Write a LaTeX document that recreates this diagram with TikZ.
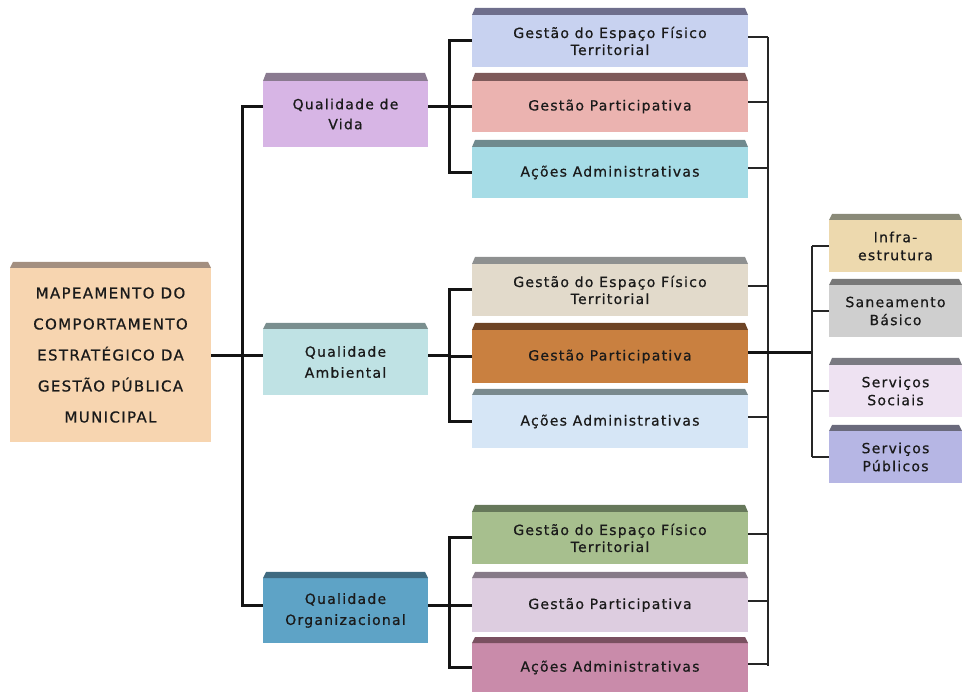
\documentclass[tikz,border=0pt]{standalone}
\usepackage{fontspec}
\setmainfont{DejaVu Sans}[LetterSpace=9,FakeBold=0.7]
\definecolor{txt}{HTML}{1A1A1A}
\definecolor{rootfill}{HTML}{F7D5B0}\definecolor{rootbev}{HTML}{A38F80}
\definecolor{qvfill}{HTML}{D7B5E5}\definecolor{qvbev}{HTML}{8A7A90}
\definecolor{qafill}{HTML}{BFE2E4}\definecolor{qabev}{HTML}{7A8F8F}
\definecolor{qofill}{HTML}{5EA3C6}\definecolor{qobev}{HTML}{3F6A80}
\definecolor{gaFill}{HTML}{C8D2F0}\definecolor{gaBev}{HTML}{6E6E8C}
\definecolor{paFill}{HTML}{EBB3B0}\definecolor{paBev}{HTML}{7E5A5A}
\definecolor{aaFill}{HTML}{A6DCE6}\definecolor{aaBev}{HTML}{708A8E}
\definecolor{gbFill}{HTML}{E2DACB}\definecolor{gbBev}{HTML}{8E9090}
\definecolor{pbFill}{HTML}{C98040}\definecolor{pbBev}{HTML}{6E4425}
\definecolor{abFill}{HTML}{D6E6F6}\definecolor{abBev}{HTML}{7A8A8E}
\definecolor{gcFill}{HTML}{A7BF8E}\definecolor{gcBev}{HTML}{66785A}
\definecolor{pcFill}{HTML}{DDCDE0}\definecolor{pcBev}{HTML}{867A88}
\definecolor{acFill}{HTML}{C98BAA}\definecolor{acBev}{HTML}{7A5060}
\definecolor{infFill}{HTML}{EDD9AE}\definecolor{infBev}{HTML}{8A8A78}
\definecolor{sanFill}{HTML}{CFCFCF}\definecolor{sanBev}{HTML}{787878}
\definecolor{socFill}{HTML}{EEE2F2}\definecolor{socBev}{HTML}{7A7A82}
\definecolor{pubFill}{HTML}{B6B6E4}\definecolor{pubBev}{HTML}{6A6A7C}
\newcommand{\bevbox}[9]{%
  \node[bx, #7, minimum width={(#3-#2)*1pt}, minimum height={(#6-#5)*1pt}] (#1) at ({(#2+#3)/2},{(#5+#6)/2}) {#9};
  \fill[#8] (#2,#5) -- ({#2+3},#4) -- ({#3-3},#4) -- (#3,#5) -- cycle;}
\begin{document}
\begin{tikzpicture}[x=1pt,y=-1pt,
  bx/.style={rectangle, inner sep=0pt, outer sep=0pt, text=txt, align=center, font=\fontsize{14}{17}\selectfont},
  mainline/.style={line width=3pt, draw=black!92, line join=miter},
  subline/.style={line width=2pt, draw=black!85, line join=miter}]
\useasboundingbox (0,0) rectangle (962,692);
% root
\bevbox{root}{10}{211}{262}{268}{442}{fill=rootfill, font=\fontsize{15}{31}\selectfont}{rootbev}{MAPEAMENTO DO\\COMPORTAMENTO\\ESTRATÉGICO DA\\GESTÃO PÚBLICA\\MUNICIPAL}
% level 1
\bevbox{qv}{263}{428}{73}{81}{147}{fill=qvfill, font=\fontsize{14}{20}\selectfont}{qvbev}{Qualidade de\\Vida}
\bevbox{qa}{263}{428}{323}{329}{395}{fill=qafill, font=\fontsize{14}{21}\selectfont}{qabev}{Qualidade\\Ambiental}
\bevbox{qo}{263}{428}{572}{578}{643}{fill=qofill, font=\fontsize{14}{21}\selectfont}{qobev}{Qualidade\\Organizacional}
% level 2, group 1
\bevbox{ga}{472}{748}{8}{15}{67}{fill=gaFill}{gaBev}{Gestão do Espaço Físico\\Territorial}
\bevbox{pa}{472}{748}{73}{81}{132}{fill=paFill}{paBev}{Gestão Participativa}
\bevbox{aa}{472}{748}{140}{147}{198}{fill=aaFill}{aaBev}{Ações Administrativas}
% group 2
\bevbox{gb}{472}{748}{257}{264}{316}{fill=gbFill}{gbBev}{Gestão do Espaço Físico\\Territorial}
\bevbox{pb}{472}{748}{323}{330}{383}{fill=pbFill}{pbBev}{Gestão Participativa}
\bevbox{ab}{472}{748}{389}{395}{448}{fill=abFill}{abBev}{Ações Administrativas}
% group 3
\bevbox{gc}{472}{748}{505}{512}{564}{fill=gcFill}{gcBev}{Gestão do Espaço Físico\\Territorial}
\bevbox{pc}{472}{748}{572}{578}{632}{fill=pcFill}{pcBev}{Gestão Participativa}
\bevbox{ac}{472}{748}{637}{643}{692}{fill=acFill}{acBev}{Ações Administrativas}
% right column
\bevbox{inf}{829}{962}{214}{220}{272}{fill=infFill, font=\fontsize{14}{18}\selectfont}{infBev}{Infra-\\estrutura}
\bevbox{san}{829}{962}{279}{285}{337}{fill=sanFill, font=\fontsize{14}{18}\selectfont}{sanBev}{Saneamento\\Básico}
\bevbox{soc}{829}{962}{358}{365}{417}{fill=socFill, font=\fontsize{14}{18}\selectfont}{socBev}{Serviços\\Sociais}
\bevbox{pub}{829}{962}{425}{431}{483}{fill=pubFill, font=\fontsize{14}{18}\selectfont}{pubBev}{Serviços\\Públicos}
% helper coordinates
\coordinate (tx) at (242,0);
\coordinate (gx) at (449,0);
\coordinate (rx) at (768,0);
\coordinate (sx) at (812,0);
\coordinate (qvL) at ([yshift=7pt]qv.west);
\coordinate (qvR) at ([yshift=7pt]qv.east);
\coordinate (qaL) at ([yshift=6.5pt]qa.west);
\coordinate (qaR) at ([yshift=6.5pt]qa.east);
\coordinate (qoL) at ([yshift=5.5pt]qo.west);
\coordinate (qoR) at ([yshift=5.5pt]qo.east);
% trunk
\draw[mainline] (root.east |- qaL) -- (qaL);
\draw[mainline] (qvL) -- (qvL -| tx) -- (qoL -| tx) -- (qoL);
% groups
\foreach \q/\g/\p/\a in {qv/ga/pa/aa, qa/gb/pb/ab, qo/gc/pc/ac}{
  \draw[mainline] (\q R) -- (\q R -| gx);
  \draw[mainline] (\g.west) -- (\g.west -| gx) -- (\a.west -| gx) -- (\a.west);
  \draw[mainline] (\p.west) -- (\p.west -| gx);
}
% right side
\foreach \b in {ga,pa,aa,gb,ab,gc,pc,ac}{
  \coordinate (\b R) at ([yshift=4pt]\b.east);
  \draw[subline] (\b R) -- (\b R -| rx);
}
\coordinate (pbR) at ([yshift=4pt]pb.east);
\coordinate (gaR) at ([yshift=4pt]ga.east);
\coordinate (acR) at ([yshift=2pt]ac.east);
\draw[subline] (gaR -| rx) -- (acR -| rx);
\draw[mainline] (pbR) -- (pbR -| sx);
\draw[subline] (inf.west -| sx) -- (pub.west -| sx);
\foreach \r in {inf,san,soc,pub}{
  \draw[subline] (\r.west) -- (\r.west -| sx);
}
\end{tikzpicture}
\end{document}
